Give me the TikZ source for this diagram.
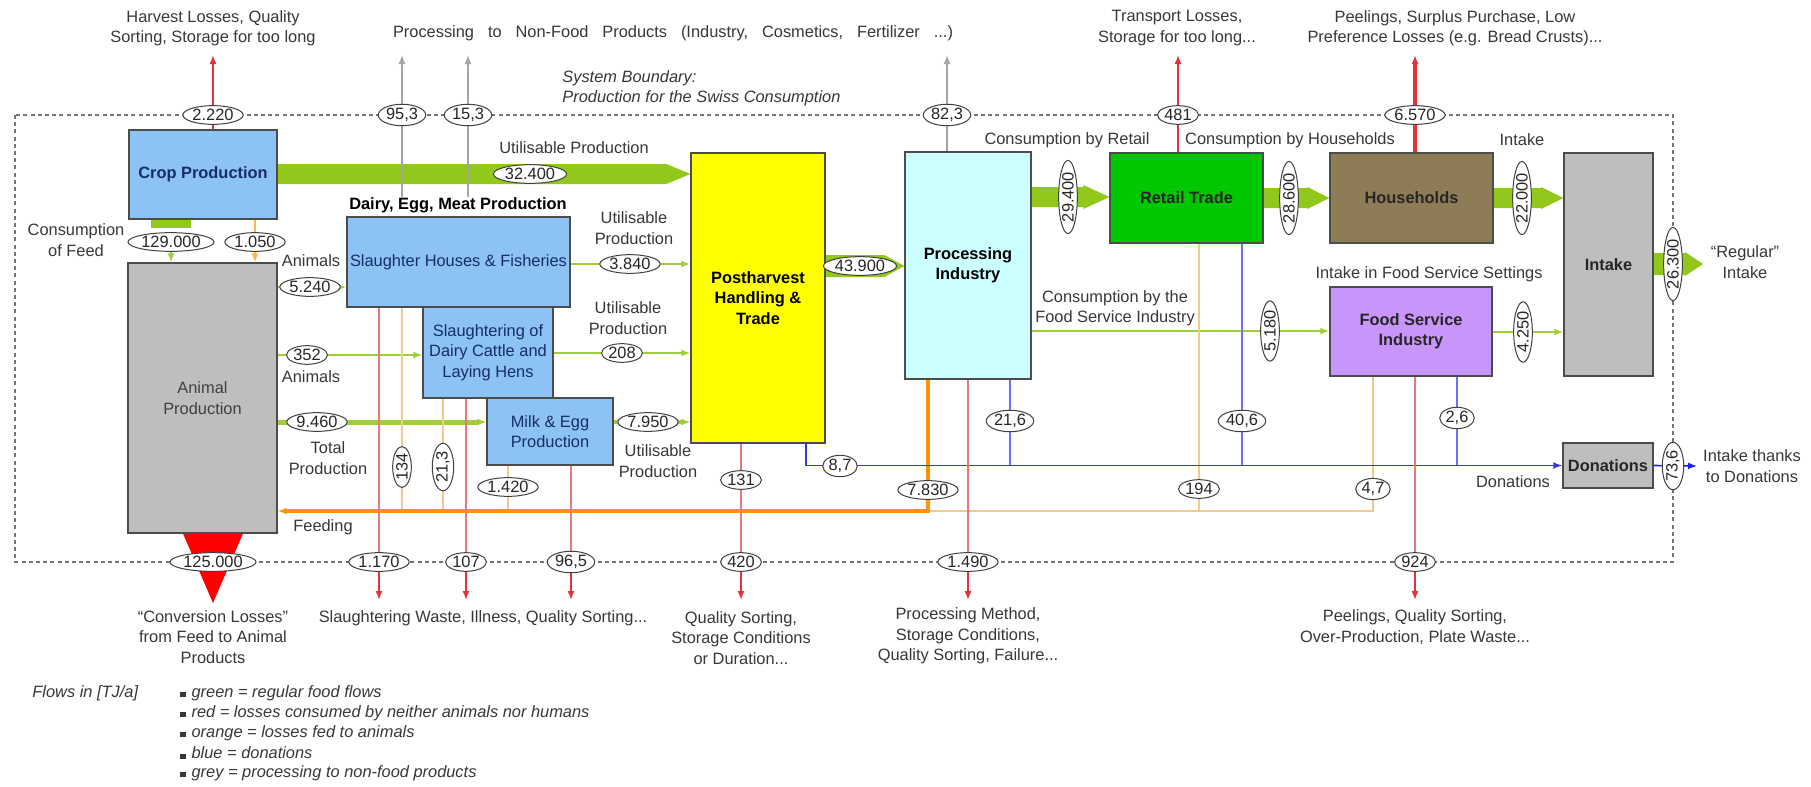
\documentclass[tikz,border=0pt]{standalone}
\usepackage{fontspec}
\setmainfont{Liberation Sans}
\usetikzlibrary{shapes.geometric,arrows.meta,calc}
\pgfdeclarelayer{bg}
\pgfsetlayers{bg,main}
\definecolor{cropblue}{RGB}{141,195,243}
\definecolor{navy}{RGB}{20,45,110}
\definecolor{animgrey}{RGB}{190,190,190}
\definecolor{postyellow}{RGB}{255,255,0}
\definecolor{proccyan}{RGB}{204,255,255}
\definecolor{retailgreen}{RGB}{0,200,0}
\definecolor{housebrown}{RGB}{141,124,86}
\definecolor{foodpurple}{RGB}{200,150,250}
\definecolor{flowgreen}{RGB}{146,200,28}
\definecolor{thingreen}{RGB}{160,205,60}
\definecolor{lossred}{RGB}{230,50,60}
\definecolor{palered}{RGB}{235,120,120}
\definecolor{feedorange}{RGB}{255,150,0}
\definecolor{paleorange}{RGB}{245,200,140}
\definecolor{donblue}{RGB}{110,110,250}
\definecolor{darkblue}{RGB}{30,30,230}
\definecolor{nfgrey}{RGB}{165,165,165}
\definecolor{lbl}{RGB}{55,55,55}
\newcommand\lblfont{\fontsize{8.2}{10.2}\selectfont}
\newcommand\fatarrow[5]{\fill[flowgreen] ($(#1)+(0pt,#3)$) -- ($(#2)+(-#4,#3)$) -- ($(#2)+(-#4,#5)$) -- (#2) -- ($(#2)+(-#4,-#5)$) -- ($(#2)+(-#4,-#3)$) -- ($(#1)+(0pt,-#3)$) -- cycle;}
\begin{document}
\begin{tikzpicture}[x=0.5pt,y=-0.5pt,
  every node/.style={font=\lblfont},
  lab/.style={text=lbl, align=center, inner sep=0pt},
  box/.style={draw=black!70, line width=0.6pt, align=center, inner sep=1pt},
  num/.style={ellipse, draw=black!75, line width=0.5pt, fill=white, inner sep=0.4pt, text=black!85},
  vnum/.style={num, rotate=90},
  arr/.style={-{Latex[length=4.5pt,width=3.5pt]}},
  redl/.style={lossred, line width=0.7pt, arr},
  palel/.style={palered, line width=0.6pt},
  orl/.style={paleorange, line width=0.7pt},
  greyl/.style={nfgrey, line width=0.7pt, arr},
  greenl/.style={thingreen, line width=0.9pt, arr},
  bluel/.style={donblue, line width=0.9pt},
  bnd/.style={draw=black!55, line width=0.7pt, dash pattern=on 2pt off 1.6pt}]
\useasboundingbox (0,0) rectangle (1811,787);

% ---------------- boxes ----------------
\node[box, fill=cropblue, minimum width=74pt, minimum height=44.5pt, text=navy, font=\lblfont\bfseries] (crop) at (203,174.5) {Crop Production};
\node[box, fill=animgrey, minimum width=74.5pt, minimum height=135pt, text=black!75] (animal) at (202.5,398) {Animal\\Production};
\node[box, fill=cropblue, minimum width=111.5pt, minimum height=45pt, text=navy] (slaughter) at (458.5,262) {Slaughter Houses \& Fisheries};
\node[box, fill=cropblue, minimum width=65pt, minimum height=45.5pt, text=navy] (slaughtering) at (488,352.5) {Slaughtering of\\Dairy Cattle and\\Laying Hens};
\node[box, fill=cropblue, minimum width=63pt, minimum height=33.5pt, text=navy] (milk) at (550,431.5) {Milk \& Egg\\Production};
\node[box, fill=postyellow, minimum width=67pt, minimum height=145pt, font=\lblfont\bfseries] (post) at (758,298) {Postharvest\\Handling \&\\Trade};
\node[box, fill=proccyan, minimum width=63pt, minimum height=113.5pt, font=\lblfont\bfseries] (proc) at (968,265.5) {Processing\\Industry};
\node[box, fill=retailgreen, minimum width=76.5pt, minimum height=45pt, font=\lblfont\bfseries, text=black!85] (retail) at (1186.5,198) {Retail Trade};
\node[box, fill=housebrown, minimum width=81.5pt, minimum height=45pt, font=\lblfont\bfseries, text=black!85] (house) at (1411.5,198) {Households};
\node[box, fill=animgrey, minimum width=44.5pt, minimum height=111.5pt, font=\lblfont\bfseries, text=black!85] (intake) at (1608.5,264.5) {Intake};
\node[box, fill=foodpurple, minimum width=81pt, minimum height=44.5pt, font=\lblfont\bfseries, text=black!85] (food) at (1411,331.5) {Food Service\\Industry};
\node[box, fill=animgrey, minimum width=45pt, minimum height=22.5pt, font=\lblfont\bfseries, text=black!85] (don) at (1608,465.5) {Donations};

% ---------------- numbers ----------------
\node[num] (e2220) at (213,115) {2.220};
\node[num] (e953) at (402,115) {95,3};
\node[num] (e153) at (468,115) {15,3};
\node[num] (e823) at (947,115) {82,3};
\node[num] (e481) at (1178,115) {481};
\node[num] (e6570) at (1415,115) {6.570};
\node[num] (e125000) at (213,562) {125.000};
\node[num] (e1170) at (379,562) {1.170};
\node[num] (e107) at (466,562) {107};
\node[num] (e965) at (571,562) {96,5};
\node[num] (e420) at (741,562) {420};
\node[num] (e1490) at (968,562) {1.490};
\node[num] (e924) at (1415,562) {924};
\node[num] (e32400) at (530,174) {32.400};
\node[num] (e129) at (171,242) {129.000};
\node[num] (e1050) at (255,242) {1.050};
\node[num] (e5240) at (310,287) {5.240};
\node[num] (e352) at (307,355) {352};
\node[num] (e9460) at (317,422) {9.460};
\node[vnum] (e134) at (402,467) {134};
\node[vnum] (e213) at (443,467) {21,3};
\node[num] (e1420) at (508,487) {1.420};
\node[num] (e3840) at (630,264) {3.840};
\node[num] (e208) at (622,353) {208};
\node[num] (e7950) at (648,422) {7.950};
\node[num] (e131) at (741,480) {131};
\node[num] (e87) at (840,466) {8,7};
\node[num] (e43900) at (860,266) {43.900};
\node[num] (e7830) at (928,490) {7.830};
\node[num] (e216) at (1010,421) {21,6};
\node[vnum] (e29400) at (1068,197) {29.400};
\node[vnum] (e28600) at (1289,198) {28.600};
\node[vnum] (e22000) at (1522,198) {22.000};
\node[vnum] (e5180) at (1270,331) {5.180};
\node[num] (e406) at (1242,421) {40,6};
\node[num] (e194) at (1199,489) {194};
\node[vnum] (e4250) at (1523,332) {4.250};
\node[num] (e26) at (1457,418) {2,6};
\node[num] (e47) at (1373,489) {4,7};
\node[vnum] (e26300) at (1673,264) {26.300};
\node[vnum] (e736) at (1673,466) {73,6};

% ---------------- labels ----------------
\node[lab] (lharvest) at (213,28) {Harvest Losses, Quality\\Sorting, Storage for too long};
\node[lab] (lnonfood) at (673,33) {\hbox to 280pt{Processing\hfill to\hfill Non-Food\hfill Products\hfill (Industry,\hfill Cosmetics,\hfill Fertilizer\hfill ...)}};
\node[lab] (ltransport) at (1177,28) {Transport Losses,\\Storage for too long...};
\node[lab] (lpeel) at (1455,28) {Peelings, Surplus Purchase, Low\\Preference Losses (e.g. Bread Crusts)...};
\node[lab, anchor=west, align=left, font=\lblfont\itshape] (lsys) at (562,88) {System Boundary:\\Production for the Swiss Consumption};
\node[lab] (lutil1) at (574,148) {Utilisable Production};
\node[lab] (lfeed) at (76,240) {Consumption\\of Feed};
\node[lab, text=black, font=\lblfont\bfseries] (ldairy) at (458,205) {Dairy, Egg, Meat Production};
\node[lab] (lanim1) at (311,261) {Animals};
\node[lab] (lutil2) at (634,228) {Utilisable\\Production};
\node[lab] (lutil3) at (628,318) {Utilisable\\Production};
\node[lab] (lanim2) at (311,377) {Animals};
\node[lab] (ltotal) at (328,458) {Total\\Production};
\node[lab] (lutil4) at (658,461) {Utilisable\\Production};
\node[lab] (lfeeding) at (323,527) {Feeding};
\node[lab] (lretail) at (1067,140) {Consumption by Retail};
\node[lab] (lhouse) at (1290,140) {Consumption by Households};
\node[lab] (lintake) at (1522,140) {Intake};
\node[lab] (lfsi) at (1115,308) {Consumption by the\\Food Service Industry};
\node[lab] (lfss) at (1429,274) {Intake in Food Service Settings};
\node[lab] (lreg) at (1745,262) {``Regular''\\Intake};
\node[lab] (ldon) at (1513,482) {Donations};
\node[lab] (lthanks) at (1752,466) {Intake thanks\\to Donations};
\node[lab] (lconv) at (213,637) {``Conversion Losses''\\from Feed to Animal\\Products};
\node[lab] (lslw) at (483,618) {Slaughtering Waste, Illness, Quality Sorting...};
\node[lab] (lqs) at (741,638) {Quality Sorting,\\Storage Conditions\\or Duration...};
\node[lab] (lpm) at (968,636) {Processing Method,\\Storage Conditions,\\Quality Sorting, Failure...};
\node[lab] (lpq) at (1415,627) {Peelings, Quality Sorting,\\Over-Production, Plate Waste...};
% legend
\node[lab, anchor=west, font=\lblfont\itshape] (lflows) at (32,693) {Flows in [TJ/a]};
\node[lab, anchor=west, font=\lblfont\itshape] (leg1) at (180,693) {\rule{2.6pt}{2.6pt}\hspace{3pt}green = regular food flows};
\node[lab, anchor=west, font=\lblfont\itshape] (leg2) at (180,713) {\rule{2.6pt}{2.6pt}\hspace{3pt}red = losses consumed by neither animals nor humans};
\node[lab, anchor=west, font=\lblfont\itshape] (leg3) at (180,733) {\rule{2.6pt}{2.6pt}\hspace{3pt}orange = losses fed to animals};
\node[lab, anchor=west, font=\lblfont\itshape] (leg4) at (180,753) {\rule{2.6pt}{2.6pt}\hspace{3pt}blue = donations};
\node[lab, anchor=west, font=\lblfont\itshape] (leg5) at (180,773) {\rule{2.6pt}{2.6pt}\hspace{3pt}grey = processing to non-food products};

% free ends
\coordinate (t2220) at (213,55);
\coordinate (t953) at (402,55);
\coordinate (t153) at (468,55);
\coordinate (t823) at (947,55);
\coordinate (t481) at (1178,55);
\coordinate (t6570) at (1415,55);
\coordinate (t125) at (213,603);
\coordinate (b1170) at (379,600);
\coordinate (b107) at (466,600);
\coordinate (b965) at (571,600);
\coordinate (b420) at (741,600);
\coordinate (b1490) at (968,600);
\coordinate (b924) at (1415,600);
\coordinate (fy) at (0,511);
\coordinate (treg) at (1703,264);
\coordinate (tdon) at (1697,466);
\coordinate (bndNW) at (15,115);
\coordinate (bndSE) at (1673,562);

\begin{pgfonlayer}{bg}
% system boundary
\draw[bnd] (bndNW) rectangle (bndSE);
% fat green flows
\fatarrow{crop.east |- e32400}{post.west |- e32400}{5pt}{12pt}{5pt}
\fatarrow{post.east |- e43900}{proc.west |- e43900}{5.5pt}{10pt}{5.5pt}
\fatarrow{proc.east |- e29400}{retail.west |- e29400}{5pt}{13pt}{6pt}
\fatarrow{retail.east |- e28600}{house.west |- e28600}{5pt}{11pt}{5.5pt}
\fatarrow{house.east |- e22000}{intake.west |- e22000}{5pt}{11pt}{5.5pt}
\fatarrow{intake.east |- e26300}{treg}{5.5pt}{9pt}{6pt}
\draw[flowgreen, line width=20pt] (e129 |- crop.south) -- ($(e129.north)+(0pt,2pt)$);
\draw[greenl] (e129.south) -- (e129 |- animal.north);
% thin green flows
\draw[greenl] (animal.east |- e5240) -- (slaughter.west |- e5240);
\draw[greenl] (animal.east |- e352) -- (slaughtering.west |- e352);
\draw[greenl, line width=2.5pt] (animal.east |- e9460) -- (milk.west |- e9460);
\draw[greenl] (slaughter.east |- e3840) -- (post.west |- e3840);
\draw[greenl] (slaughtering.east |- e208) -- (post.west |- e208);
\draw[greenl, line width=1.6pt] (milk.east |- e7950) -- (post.west |- e7950);
\draw[greenl, line width=1.3pt] (proc.east |- e5180) -- (food.west |- e5180);
\draw[greenl, line width=1.3pt] (food.east |- e4250) -- (intake.west |- e4250);
% non-food (grey)
\draw[greyl] (e953 |- ldairy.north) -- (t953);
\draw[greyl] (e153 |- ldairy.north) -- (t153);
\draw[greyl] (e823 |- proc.north) -- (t823);
% losses up (red)
\draw[redl] (e2220 |- crop.north) -- (t2220);
\draw[redl] (e481 |- retail.north) -- (t481);
\draw[redl, line width=1.6pt] (e6570 |- house.north) -- (t6570);
% feeding (orange)
\draw[orl, arr, feedorange!70] (e1050 |- crop.south) -- (e1050 |- animal.north);
\draw[orl] (e134 |- slaughter.south) -- (e134 |- fy);
\draw[orl] (e213 |- slaughtering.south) -- (e213 |- fy);
\draw[orl] (e1420 |- milk.south) -- (e1420 |- fy);
\draw[orl] (e194 |- retail.south) -- (e194 |- fy);
\draw[orl] (e47 |- food.south) -- (e47 |- fy) -- (e7830 |- fy);
\draw[feedorange, line width=2pt, arr] (e7830 |- proc.south) -- (e7830 |- fy) -- (animal.east |- fy);
% donations (blue)
\draw[bluel] (e216 |- proc.south) -- (e216 |- don.west);
\draw[bluel] (e406 |- retail.south) -- (e406 |- don.west);
\draw[bluel] (e26 |- food.south) -- (e26 |- don.west);
\draw[bluel, -{Latex[length=4.5pt,width=3.5pt]}, darkblue!70!donblue] ($(post.south east)+(-10pt,0pt)$) |- (don.west);
\draw[darkblue, line width=0.8pt, arr] (don.east) -- (tdon);
% losses down (red)
\fill[red] ($(e125000 |- animal.south)+(-15pt,0pt)$) -- ($(e125000 |- animal.south)+(15pt,0pt)$) -- (t125) -- cycle;
\draw[palel] (e1170 |- slaughter.south) -- (e1170);
\draw[redl] (e1170) -- (b1170);
\draw[palel] (e107 |- slaughtering.south) -- (e107);
\draw[redl] (e107) -- (b107);
\draw[palel] (e965 |- milk.south) -- (e965);
\draw[redl] (e965) -- (b965);
\draw[palel] (e420 |- post.south) -- (e420);
\draw[redl] (e420) -- (b420);
\draw[palel] (e1490 |- proc.south) -- (e1490);
\draw[redl] (e1490) -- (b1490);
\draw[palel] (e924 |- food.south) -- (e924);
\draw[redl] (e924) -- (b924);
\end{pgfonlayer}
\end{tikzpicture}
\end{document}
